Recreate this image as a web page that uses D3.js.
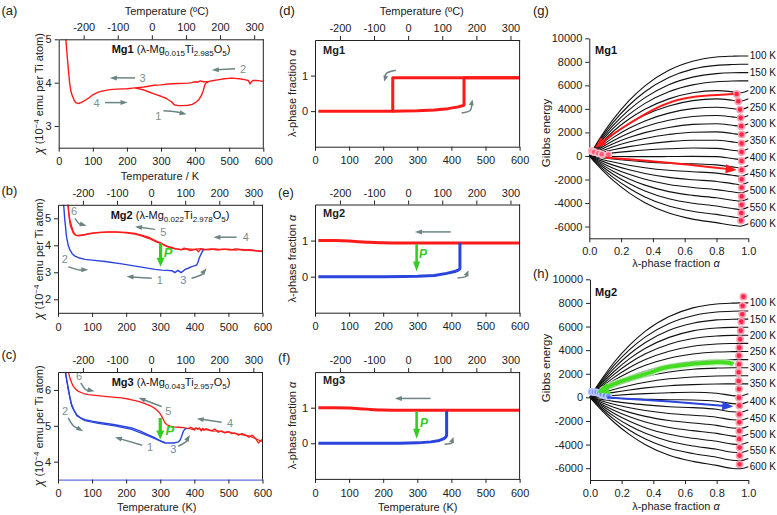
<!DOCTYPE html>
<html><head><meta charset="utf-8">
<script src="https://cdn.jsdelivr.net/npm/d3@7"></script>
<style>body{margin:0;background:#fff;}</style>
</head><body><script>
// ================= DATA =================
const kTicks=[0,100,200,300,400,500,600];
const cTicks=[-200,-100,0,100,200,300];
const mgNames=["Mg1","Mg2","Mg3"];
const mgSubMg=["0.015","0.022","0.043"];
const mgSubTi=["2.985","2.978","2.957"];

// (a) Mg1 susceptibility
const aCoolT=[600,590,580,570,565,561,556,545,530,515,500,485,470,455,440,425,415,408,400,390,380,350,320,300,280,250,224,200,170,150,130,116,100,87,75,65,58,50,45,40,36,32,28,24,20,17];
const aCoolChi=[4.03,4.04,4.05,4.05,4.02,3.97,4.05,4.07,4.09,4.1,4.1,4.09,4.07,4.05,4.03,4.02,4.04,4.01,4.02,4.0,3.99,3.98,3.97,3.95,3.94,3.9,3.88,3.86,3.85,3.84,3.81,3.78,3.72,3.64,3.58,3.54,3.52,3.54,3.6,3.7,3.79,4.0,4.33,4.7,5.1,5.5];
const aHeatT=[224,250,263,280,302,315,322,331,339,350,365,380,392,404,412,419,424,429,433,440];
const aHeatChi=[3.88,3.83,3.79,3.74,3.68,3.64,3.6,3.56,3.49,3.47,3.47,3.48,3.5,3.56,3.62,3.71,3.82,3.96,4.0,4.02];

// (b) Mg2 susceptibility
const bRedCoolT=[600,590,580,570,560,550,540,530,520,510,500,490,480,470,460,450,440,431,425,418,412,405,395,388,382,375,370,362,355,343,335,324,314,304,290,265,245,226,200,170,148,120,100,89,75,60,52,45,40,35,32,30,28];
const bRedCoolChi=[3.78,3.79,3.80,3.83,3.84,3.81,3.82,3.86,3.87,3.83,3.83,3.86,3.86,3.82,3.84,3.87,3.86,3.83,3.84,3.85,3.76,3.86,3.82,3.8,3.84,3.88,3.9,3.83,3.86,3.88,3.92,3.95,4.0,4.07,4.15,4.3,4.38,4.44,4.48,4.5,4.5,4.48,4.45,4.43,4.39,4.37,4.38,4.5,4.7,4.94,5.15,5.43,5.7];
const bRedHeatT=[28,30,33,36,40,45,52,60,75,100,120,148,170,200,226,245,265,290,304,314,324,340,360,380,400,420,440,460,480,500,520,540,560,580,600];
const bRedHeatChi=[5.7,5.4,5.0,4.75,4.6,4.45,4.37,4.35,4.38,4.44,4.47,4.49,4.49,4.46,4.41,4.35,4.26,4.12,4.05,3.99,3.93,3.88,3.84,3.87,3.85,3.88,3.83,3.87,3.84,3.86,3.82,3.85,3.81,3.79,3.77];
const bBlueT=[16,20,25,30,35,42,50,60,79,100,138,187,236,285,304,320,334,343,352,361,368,373,382,392,400,407,411,414,420,427];
const bBlueChi=[5.6,4.94,4.32,4.0,3.83,3.68,3.6,3.54,3.48,3.45,3.4,3.31,3.21,3.11,3.08,3.07,3.06,2.99,3.07,2.99,3.05,3.11,3.15,3.21,3.24,3.27,3.38,3.52,3.68,3.85];

// (c) Mg3 susceptibility
const cRedT=[28,32,35,40,45,52,60,75,89,110,138,160,187,210,236,255,275,285,294,300,304,309,314,320,329,340,353,368,382,390,395,400,405,410,415,420,425,430,435,441,450,460,470,480,490,500,510,519,530,540,549,560,570,580,588,594,598];
const cRedChi=[6.6,6.45,6.33,6.2,6.1,6.02,5.96,5.9,5.87,5.85,5.82,5.8,5.78,5.74,5.68,5.62,5.54,5.48,5.4,5.33,5.27,5.18,5.08,5.03,4.99,4.97,4.96,4.95,4.92,4.96,4.93,4.88,4.95,4.9,4.94,4.86,4.93,4.89,4.92,4.88,4.86,4.91,4.82,4.86,4.8,4.84,4.78,4.8,4.74,4.78,4.75,4.68,4.74,4.64,4.52,4.58,4.62];
const cRed2T=[382,395,410,425,440,455,470,485,500,515,530,545,560,575,590,600];
const cRed2Chi=[4.93,4.9,4.93,4.88,4.9,4.85,4.86,4.82,4.83,4.79,4.77,4.74,4.72,4.66,4.6,4.56];
const cBlueT=[20,25,30,35,40,47,55,65,79,100,118,167,216,240,265,285,304,314,324,340,353,358,361,365,368,372,377];
const cBlueChi=[6.6,6.3,6.06,5.8,5.59,5.43,5.31,5.23,5.17,5.13,5.1,5.03,4.94,4.86,4.75,4.66,4.56,4.52,4.52,4.52,4.55,4.6,4.66,4.77,4.85,4.9,4.94];
const cBlue2T=[22,30,40,55,79,118,167,216,265,300,314];
const cBlue2Chi=[6.5,6.0,5.55,5.28,5.14,5.07,5.0,4.9,4.72,4.58,4.53];

// (d)-(f) lambda-phase fraction
const dCoolT=[600,228,228,10];
const dCoolA=[0.94,0.94,0,0];
const dHeatT=[228,260,300,350,390,420,432,437,437,600];
const dHeatA=[0,0.003,0.01,0.03,0.07,0.12,0.15,0.17,0.94,0.94];
const eRedT=[10,60,100,130,160,200,250,600];
const eRedA=[1.0,1.0,0.99,0.97,0.95,0.94,0.935,0.935];
const eBlueT=[10,200,260,300,350,386,410,420,424,425,425];
const eBlueA=[0,0,0.003,0.01,0.03,0.09,0.14,0.18,0.21,0.23,0.94];
const fRedT=[10,60,100,150,200,250,600];
const fRedA=[1.0,1.0,0.99,0.96,0.935,0.93,0.93];
const fBlueT=[10,200,250,300,340,365,378,384,386,386];
const fBlueA=[0,0,0.003,0.012,0.04,0.08,0.13,0.18,0.22,0.91];

// (g),(h) Gibbs energy curves
const gAlpha=[0,0.03,0.08,0.15,0.25,0.35,0.5,0.65,0.8,0.9,0.95,1.0];
const gTemps=[100,125,150,175,200,225,250,275,300,325,350,375,400,425,450,475,500,525,550,575,600];
const gLabelTemps=[100,150,200,250,300,350,400,450,500,550,600];
const gEnergyMg1=[
[0,700,1770,3110,4700,5960,7280,8050,8410,8480,8500,8500],
[0,640,1620,2850,4310,5460,6670,7380,7700,7770,7790,7790],
[0,580,1470,2590,3920,4960,6060,6700,7000,7070,7080,7080],
[0,520,1330,2340,3530,4470,5460,6040,6310,6370,6380,6380],
[0,460,1180,2080,3140,3970,4850,5370,5550,5450,5370,5570],
[0,410,1030,1820,2740,3480,4250,4700,4850,4740,4660,4860],
[0,350,880,1560,2350,2980,3640,4020,4140,4030,3950,4150],
[0,290,740,1300,1960,2480,3030,3350,3440,3320,3240,3440],
[0,230,590,1040,1560,1980,2420,2680,2740,2610,2530,2730],
[0,170,440,780,1180,1490,1820,2020,2050,1910,1830,2030],
[0,120,300,520,790,1000,1220,1340,1340,1200,1120,1320],
[0,60,150,260,390,500,610,670,640,490,410,610],
[0,-20,-40,-50,-60,-60,-50,-40,-60,-220,-300,-100],
[0,-60,-150,-260,-390,-500,-610,-670,-760,-930,-1010,-810],
[0,-120,-300,-520,-790,-1000,-1220,-1340,-1460,-1640,-1720,-1520],
[0,-170,-440,-780,-1180,-1490,-1820,-2020,-2170,-2350,-2430,-2230],
[0,-230,-590,-1040,-1560,-1980,-2420,-2680,-2860,-3050,-3130,-2930],
[0,-290,-740,-1300,-1960,-2480,-3030,-3350,-3560,-3760,-3840,-3640],
[0,-350,-880,-1560,-2350,-2980,-3640,-4020,-4260,-4470,-4550,-4350],
[0,-410,-1030,-1820,-2740,-3480,-4250,-4700,-4970,-5180,-5260,-5060],
[0,-460,-1180,-2080,-3140,-3970,-4850,-5370,-5670,-5890,-5970,-5770]];
const gEnergyMg2=[
[0,660,1660,2930,4420,5610,6850,7580,7910,7980,8000,8000],
[0,600,1520,2680,4040,5120,6260,6920,7230,7300,7310,7310],
[0,540,1380,2430,3670,4650,5680,6280,6560,6620,6630,6630],
[0,490,1240,2170,3280,4160,5080,5630,5870,5930,5940,5940],
[0,430,1090,1930,2910,3690,4500,4980,5200,5250,5260,5260],
[0,370,950,1670,2530,3200,3910,4330,4520,4560,4570,4570],
[0,320,810,1420,2150,2720,3320,3670,3840,3870,3880,3880],
[0,260,670,1170,1770,2240,2740,3030,3160,3190,3200,3200],
[0,210,520,920,1390,1760,2150,2380,2480,2510,2510,2510],
[0,150,380,670,1010,1280,1570,1730,1810,1830,1830,1830],
[0,90,240,420,630,800,980,1080,1130,1140,1140,1140],
[0,40,90,160,250,320,390,430,350,150,120,300],
[0,-20,-50,-80,-130,-160,-200,-220,-330,-530,-560,-380],
[0,-80,-190,-340,-510,-640,-790,-870,-1010,-1220,-1250,-1070],
[0,-130,-330,-590,-880,-1120,-1370,-1520,-1680,-1900,-1930,-1750],
[0,-190,-480,-840,-1270,-1610,-1960,-2170,-2370,-2590,-2620,-2440],
[0,-240,-620,-1090,-1650,-2090,-2550,-2820,-3050,-3280,-3310,-3130],
[0,-300,-760,-1340,-2020,-2570,-3130,-3470,-3720,-3960,-3990,-3810],
[0,-360,-900,-1590,-2410,-3050,-3720,-4120,-4400,-4650,-4680,-4500],
[0,-410,-1050,-1840,-2780,-3530,-4310,-4760,-5070,-5330,-5360,-5180],
[0,-470,-1190,-2090,-3160,-4010,-4900,-5420,-5760,-6020,-6050,-5870]];
const gAlphaTicks=[0,0.2,0.4,0.6,0.8,1.0];
const gEnergyTicks=[-6000,-4000,-2000,0,2000,4000,6000,8000,10000];
// dots
const gDotA=[0.927,0.937,0.948,0.952,0.956,0.958,0.958,0.958,0.958,0.958,0.958,0.958,0.958,0.958,0.956,0.954];
const gDotG=[5265,4645,3941,3237,2532,1828,1067,335,-426,-1187,-1975,-2679,-3440,-4144,-4848,-5496];
const gOriginA=[0.015,0.03,0.057,0.078,0.12];
const gOriginG=[420,335,220,140,110];
const hDotA=[0.969,0.964,0.962,0.956,0.952,0.948,0.943,0.941,0.941,0.939,0.939,0.941,0.941,0.943,0.943,0.943,0.943,0.943,0.945,0.945,0.945];
const hDotG=[8530,7765,7037,6411,5649,4921,4210,3533,2805,2127,1391,714,-23,-700,-1428,-2105,-2842,-3519,-4256,-4933,-5661];
const hOriginA=[0.01,0.025,0.042,0.06,0.074,0.095,0.116];
const hOriginG=[485,450,430,350,260,180,90];

// ================= SETUP =================
const FONT='"Liberation Sans", Arial, Helvetica, sans-serif';
const GRAY="#6c8484", GLAB="#7b9090", RED="#ff1a1a", BLUE="#2a44dd", GREEN="#33cc22";
const svg=d3.select("body").append("svg").attr("width",777).attr("height",515).style("display","block");
const defs=svg.append("defs");
const base=svg.append("g").attr("font-family",FONT).attr("fill","#222");

function styleAxis(s){
  s.attr("font-family",FONT).attr("font-size",11);
  s.selectAll("path,line").attr("stroke","#222");
  s.selectAll("text").attr("fill","#222");
}
function arrow(g,pts,color,w,hl,hw,curve){
  const n=pts.length,[x1,y1]=pts[n-1],[x0,y0]=pts[n-2];
  const dx=x1-x0,dy=y1-y0,L=Math.hypot(dx,dy)||1,ux=dx/L,uy=dy/L;
  const shaft=pts.slice(0,n-1).concat([[x1-ux*hl*0.7,y1-uy*hl*0.7]]);
  g.append("path").attr("d",d3.line().curve(curve||d3.curveLinear)(shaft))
    .attr("fill","none").attr("stroke",color).attr("stroke-width",w);
  const bx=x1-ux*hl,by=y1-uy*hl,px=-uy,py=ux;
  g.append("path").attr("d",`M${x1},${y1}L${bx+px*hw/2},${by+py*hw/2}L${bx-px*hw/2},${by-py*hw/2}Z`).attr("fill",color);
}
function label(g,x,y,txt,size,opts){
  const t=g.append("text").attr("x",x).attr("y",y).attr("font-size",size).text(txt);
  if(opts) for(const k in opts) t.attr(k,opts[k]);
  return t;
}

// ---------- temperature panels (a)-(f) ----------
function tPanel(p){
  const x=d3.scaleLinear().domain([0,600]).range([p.left,p.right]);
  const y=d3.scaleLinear().domain(p.yDom).range([p.bottom,p.top]);
  const g=base.append("g");
  const cid="clip"+p.id;
  defs.append("clipPath").attr("id",cid).append("rect")
    .attr("x",p.left).attr("y",p.top).attr("width",p.right-p.left).attr("height",p.bottom-p.top);
  const plot=g.append("g").attr("clip-path",`url(#${cid})`);
  const over=g.append("g");
  const bx=g.append("g").attr("transform",`translate(0,${p.bottom})`)
    .call(d3.axisBottom(x).tickValues(kTicks).tickFormat(d=>String(d)).tickSize(4).tickSizeOuter(0).tickPadding(6)).call(styleAxis);
  if(p.bottomColor) bx.select(".domain").attr("stroke",p.bottomColor);
  g.append("g").attr("transform",`translate(${p.left},0)`)
    .call(d3.axisLeft(y).tickValues(p.yTicks).tickFormat(d=>String(d)).tickSize(4).tickSizeOuter(0).tickPadding(3)).call(styleAxis);
  g.append("g").attr("transform",`translate(0,${p.top})`)
    .call(d3.axisTop(x).tickValues(cTicks.map(c=>c+273.15)).tickFormat((d,i)=>String(cTicks[i])).tickSize(4).tickSizeOuter(0).tickPadding(4)).call(styleAxis);
  g.append("line").attr("x1",p.right).attr("x2",p.right).attr("y1",p.top).attr("y2",p.bottom).attr("stroke","#222");
  return {x,y,plot,over,g};
}
function drawCurve(P,T,V,color,w,curve){
  P.plot.append("path").datum(T.map((t,i)=>[t,V[i]]))
    .attr("d",d3.line().x(d=>P.x(d[0])).y(d=>P.y(d[1])).curve(curve||d3.curveLinear))
    .attr("fill","none").attr("stroke",color).attr("stroke-width",w).attr("stroke-linejoin","round");
}
function formula(g,x,y,i){
  const t=g.append("text").attr("x",x).attr("y",y).attr("text-anchor","middle").attr("font-size",11).attr("fill","#111");
  t.append("tspan").attr("font-weight","bold").text(mgNames[i]);
  t.append("tspan").text(" (λ-Mg");
  t.append("tspan").attr("font-size",8).attr("dy",3).text(mgSubMg[i]);
  t.append("tspan").attr("dy",-3).text("Ti");
  t.append("tspan").attr("font-size",8).attr("dy",3).text(mgSubTi[i]);
  t.append("tspan").attr("dy",-3).text("O");
  t.append("tspan").attr("font-size",8).attr("dy",3).text("5");
  t.append("tspan").attr("dy",-3).text(")");
}
function chiLabel(cy){
  const t=base.append("text").attr("transform",`translate(39,${cy}) rotate(-90)`).attr("text-anchor","middle").attr("font-size",11).attr("dy","0.35em");
  t.append("tspan").attr("font-style","italic").attr("font-size",12).text("χ");
  t.append("tspan").text(" (10");
  t.append("tspan").attr("font-size",8).attr("dy",-4).text("−4");
  t.append("tspan").attr("dy",4).text(" emu per Ti atom)");
}
function alphaLabel(cx,cy){
  const t=base.append("text").attr("transform",`translate(${cx},${cy}) rotate(-90)`).attr("text-anchor","middle").attr("font-size",11).attr("dy","0.35em");
  t.append("tspan").text("λ-phase fraction ");
  t.append("tspan").attr("font-style","italic").text("α");
}
function grayArrows(P,list){
  list.forEach(a=>{
    const pts=a.pts.map(d=>[P.x(d[0]),P.y(d[1])]);
    arrow(P.over,pts,GRAY,1.5,7,5,pts.length>2?d3.curveNatural:d3.curveLinear);
    label(P.over,P.x(a.lab[0]),P.y(a.lab[1]),a.txt,11,{"text-anchor":"middle","dy":"0.35em","fill":a.col||GLAB});
  });
}
function greenArrow(P,T,v0,v1,w,hl,hw,pT,pV,fs){
  arrow(P.over,[[P.x(T),P.y(v0)],[P.x(T),P.y(v1)]],GREEN,w,hl,hw);
  label(P.over,P.x(pT),P.y(pV),"P",fs,{"font-style":"italic","font-weight":"bold","fill":GREEN,"text-anchor":"middle","dy":"0.35em"});
}

// (a)
const A=tPanel({id:"a",left:58.7,right:263.3,top:39.3,bottom:147.7,yDom:[2.5,5],yTicks:[3,4,5]});
drawCurve(A,aCoolT,aCoolChi,RED,1.4);
drawCurve(A,aHeatT,aHeatChi,RED,1.4);
formula(A.over,171,53,0);
grayArrows(A,[
 {pts:[[224,4.11],[150,4.11]],lab:[246,4.11],txt:"3"},
 {pts:[[517,4.32],[449,4.29]],lab:[541,4.32],txt:"2"},
 {pts:[[136,3.54],[202,3.54]],lab:[111,3.52],txt:"4"},
 {pts:[[307,3.35],[342,3.33],[375,3.27]],lab:[292,3.22],txt:"1"}]);
label(base,166.7,15,"Temperature (ºC)",11,{"text-anchor":"middle"});
label(base,160,180,"Temperature / K",11,{"text-anchor":"middle"});
chiLabel(93.5);
label(base,1.5,15,"(a)",13);

// (b)
const B=tPanel({id:"b",left:58,right:262.5,top:204.8,bottom:312.8,yDom:[1.5,5.5],yTicks:[2,3,4,5]});
drawCurve(B,bRedCoolT,bRedCoolChi,RED,1.3);
drawCurve(B,bRedHeatT,bRedHeatChi,RED,1.3);
drawCurve(B,bBlueT,bBlueChi,BLUE,1.4);
formula(B.over,170,219,1);
grayArrows(B,[
 {pts:[[50,5.0],[62,4.8],[84,4.72]],lab:[47,5.25],txt:"6"},
 {pts:[[285,4.59],[226,4.69]],lab:[309,4.5],txt:"5"},
 {pts:[[524,4.3],[456,4.3]],lab:[551,4.3],txt:"4"},
 {pts:[[30,3.2],[60,3.09],[89,3.09]],lab:[20,3.48],txt:"2"},
 {pts:[[275,2.78],[201,2.84]],lab:[299,2.72],txt:"1"},
 {pts:[[392,2.78],[420,2.9],[436,3.15]],lab:[368,2.72],txt:"3",col:"#6f86a6"}]);
greenArrow(B,301,4.07,3.21,3.2,9,8,323,3.73,13);
chiLabel(258.8);
label(base,1.5,195,"(b)",13);

// (c)
const C=tPanel({id:"c",left:58,right:262.5,top:372,bottom:479.6,yDom:[3.5,6.5],yTicks:[4,5,6],bottomColor:"#3a4fd0"});
drawCurve(C,cRedT,cRedChi,RED,1.3);
drawCurve(C,cRed2T,cRed2Chi,RED,1.1);
drawCurve(C,cBlueT,cBlueChi,BLUE,1.4);
drawCurve(C,cBlue2T,cBlue2Chi,BLUE,1.2);
formula(C.over,171,386,2);
grayArrows(C,[
 {pts:[[67,6.2],[80,6.02],[107,5.96]],lab:[62,6.38],txt:"6"},
 {pts:[[304,5.54],[236,5.78]],lab:[324,5.41],txt:"5"},
 {pts:[[480,5.1],[407,5.2]],lab:[505,5.08],txt:"4"},
 {pts:[[30,5.22],[45,5.0],[74,4.85]],lab:[20.5,5.42],txt:"2"},
 {pts:[[247,4.46],[167,4.68]],lab:[270,4.41],txt:"1"},
 {pts:[[353,4.43],[375,4.55],[387,4.75]],lab:[338,4.34],txt:"3",col:"#6f86a6"}]);
greenArrow(C,300,5.22,4.62,3.2,9,8,328,4.86,13);
chiLabel(425.8);
label(base,156.7,511,"Temperature (K)",11,{"text-anchor":"middle"});
label(base,1.5,359,"(c)",13);

// (d)
const D=tPanel({id:"d",left:315,right:519.6,top:40,bottom:146.7,yDom:[-1,2],yTicks:[0,1]});
drawCurve(D,dCoolT,dCoolA,RED,3);
drawCurve(D,dHeatT,dHeatA,RED,3);
label(D.over,323,54,"Mg1",11,{"font-weight":"bold"});
arrow(D.over,[[237,1.15],[210,1.07],[203,0.83]].map(d=>[D.x(d[0]),D.y(d[1])]),GRAY,1.5,6,5,d3.curveNatural);
arrow(D.over,[[430,-0.05],[455,0.02],[462,0.33]].map(d=>[D.x(d[0]),D.y(d[1])]),GRAY,1.5,6,5,d3.curveNatural);
label(base,421.7,15,"Temperature (ºC)",11,{"text-anchor":"middle"});
alphaLabel(292,93.3);
label(base,279,14.5,"(d)",13);

// (e)
const E=tPanel({id:"e",left:315,right:519.6,top:204.5,bottom:312.7,yDom:[-1,2],yTicks:[0,1]});
drawCurve(E,eRedT,eRedA,RED,3,d3.curveMonotoneX);
drawCurve(E,eBlueT,eBlueA,BLUE,3);
label(E.over,323,216.5,"Mg2",11,{"font-weight":"bold"});
arrow(E.over,[[398,1.24],[293,1.24]].map(d=>[E.x(d[0]),E.y(d[1])]),GRAY,1.5,7,5);
arrow(E.over,[[418,-0.04],[442,0.0],[450,0.18]].map(d=>[E.x(d[0]),E.y(d[1])]),GRAY,1.5,6,5,d3.curveNatural);
greenArrow(E,298,0.9,0.14,2.6,10,7,317,0.62,12);
alphaLabel(292,258.6);
label(base,278,197,"(e)",13);

// (f)
const F=tPanel({id:"f",left:315,right:519.6,top:372.1,bottom:478.9,yDom:[-1,2],yTicks:[0,1]});
drawCurve(F,fRedT,fRedA,RED,3,d3.curveMonotoneX);
drawCurve(F,fBlueT,fBlueA,BLUE,3);
label(F.over,323,384,"Mg3",11,{"font-weight":"bold"});
arrow(F.over,[[339,1.26],[234,1.26]].map(d=>[F.x(d[0]),F.y(d[1])]),GRAY,1.5,7,5);
arrow(F.over,[[380,-0.03],[400,0.0],[406,0.18]].map(d=>[F.x(d[0]),F.y(d[1])]),GRAY,1.5,6,5,d3.curveNatural);
greenArrow(F,298,0.9,0.13,2.6,10,7,320,0.57,12);
alphaLabel(292,425.5);
label(base,417.7,511,"Temperature (K)",11,{"text-anchor":"middle"});
label(base,278,362,"(f)",13);

// ---------- Gibbs panels (g),(h) ----------
function gPanel(p,energies){
  const x=d3.scaleLinear().domain([0,1]).range([p.left,p.right]);
  const y=d3.scaleLinear().domain([-7000,10000]).range([p.bottom,p.top]);
  const g=base.append("g");
  const line=d3.line().x((d,i)=>x(gAlpha[i])).y(d=>y(d)).curve(d3.curveMonotoneX);
  g.selectAll("path.gc").data(energies).join("path").attr("class","gc")
    .attr("d",line).attr("fill","none").attr("stroke","#111").attr("stroke-width",1.1);
  g.append("g").attr("transform",`translate(0,${p.bottom})`)
    .call(d3.axisBottom(x).tickValues(gAlphaTicks).tickFormat(d3.format(".1f")).tickSize(4).tickSizeOuter(0).tickPadding(5)).call(styleAxis);
  g.append("g").attr("transform",`translate(${p.left},0)`)
    .call(d3.axisLeft(y).tickValues(gEnergyTicks).tickFormat(d=>String(d)).tickSize(4).tickSizeOuter(0).tickPadding(3)).call(styleAxis);
  gLabelTemps.forEach(T=>{
    const row=energies[gTemps.indexOf(T)];
    label(g,x(1)+1.5,y(row[row.length-1]),T+" K",10,{"dy":"0.35em","fill":"#111"});
  });
  return {x,y,g};
}
function dots(P,A,Gv,fill,halo){
  P.g.selectAll(null).data(A.map((a,i)=>[a,Gv[i]])).join("circle")
    .attr("cx",d=>P.x(d[0])).attr("cy",d=>P.y(d[1])).attr("r",3.1)
    .attr("fill",fill).attr("stroke",halo).attr("stroke-width",1.6);
}
const G=gPanel({left:589.3,right:748.3,top:38.3,bottom:238.3},gEnergyMg1);
dots(G,gDotA,gDotG,"#ff2448","#ff9fb2");
dots(G,gOriginA,gOriginG,"#ff5a78","#ffb8c6");
arrow(G.g,[[0.906,5265],[0.613,4930],[0.403,3940],[0.193,2250],[0.088,1260],[0.036,700]].map(d=>[G.x(d[0]),G.y(d[1])]),RED,2,11,9,d3.curveNatural);
arrow(G.g,[[0.1,-140],[0.48,-560],[0.927,-1190]].map(d=>[G.x(d[0]),G.y(d[1])]),RED,2,11,9,d3.curveNatural);
label(G.g,595,54,"Mg1",11,{"font-weight":"bold","fill":"#111"});
label(base,533,14.5,"(g)",13);
base.append("text").attr("transform","translate(546,133) rotate(-90)").attr("text-anchor","middle").attr("dy","0.35em").attr("font-size",11.5).text("Gibbs energy");
const gx=base.append("text").attr("x",676).attr("y",267).attr("text-anchor","middle").attr("font-size",11);
gx.append("tspan").text("λ-phase fraction "); gx.append("tspan").attr("font-style","italic").text("α");

const Hh=gPanel({left:590,right:748.3,top:279.3,bottom:480},gEnergyMg2);
dots(Hh,hDotA,hDotG,"#ff2448","#ff9fb2");
dots(Hh,hOriginA,hOriginG,"#6f8cff","#b8c8ff");
const hg=[[0.905,2805],[0.8,2970],[0.505,2600],[0.4,2180],[0.19,1330],[0.07,545],[0.045,430]].map(d=>[Hh.x(d[0]),Hh.y(d[1])]);
Hh.g.append("path").attr("d",d3.line().curve(d3.curveNatural)(hg.slice(0,-1))).attr("fill","none").attr("stroke","#c8f0c0").attr("stroke-width",7).attr("opacity",0.8);
arrow(Hh.g,hg,"#44dd22",4,12,12,d3.curveNatural);
arrow(Hh.g,[[0.11,-20],[0.505,-360],[0.905,-780]].map(d=>[Hh.x(d[0]),Hh.y(d[1])]),BLUE,2,11,9,d3.curveNatural);
label(Hh.g,595,295.5,"Mg2",11,{"font-weight":"bold","fill":"#111"});
label(base,533,278,"(h)",13);
base.append("text").attr("transform","translate(546,368) rotate(-90)").attr("text-anchor","middle").attr("dy","0.35em").attr("font-size",11.5).text("Gibbs energy");
const hx=base.append("text").attr("x",676).attr("y",510).attr("text-anchor","middle").attr("font-size",11);
hx.append("tspan").text("λ-phase fraction "); hx.append("tspan").attr("font-style","italic").text("α");
</script></body></html>
